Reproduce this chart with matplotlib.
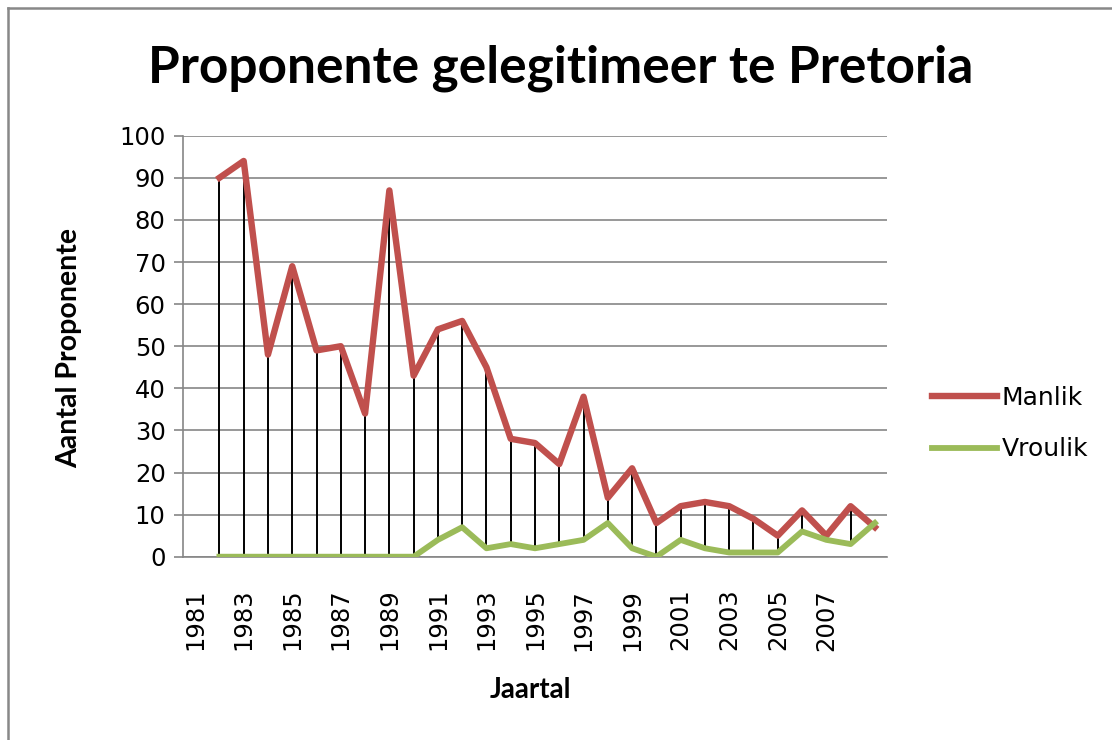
import numpy as np
import matplotlib.pyplot as plt
from matplotlib.lines import Line2D

years = list(range(1981, 2010))
manlik = [np.nan, 90, 94, 48, 69, 49, 50, 34, 87, 43,
          54, 56, 45, 28, 27, 22, 38, 14, 21, 8,
          12, 13, 12, 9, 5, 11, 5, 12, 7]
vroulik = [np.nan, 0, 0, 0, 0, 0, 0, 0, 0, 0,
           4, 7, 2, 3, 2, 3, 4, 8, 2, 0,
           4, 2, 1, 1, 1, 6, 4, 3, 8]
tick_years = years[0:-1:2]

red = '#C0504D'
green = '#9BBB59'
grey = '#868686'

W, H = 1112, 740
fig = plt.figure(figsize=(W / 100, H / 100), dpi=100)
ax = fig.add_axes([183 / W, 1 - 556.7 / H, 704 / W, 421 / H])

x = np.arange(len(years))
m = np.array(manlik, dtype=float)
v = np.array(vroulik, dtype=float)

#> high-low lines between the two series
ok = ~np.isnan(m)
ax.vlines(x[ok], np.minimum(m, v)[ok], np.maximum(m, v)[ok], colors='black', lw=1.4, zorder=2)

ax.plot(x, m, color=red, lw=4.6, label='Manlik', zorder=3)
ax.plot(x, v, color=green, lw=4.2, label='Vroulik', zorder=3)

ax.set_xlim(-0.5, len(years) - 0.5)
ax.set_ylim(0, 100)
ax.set_yticks(range(0, 101, 10))
ax.set_xticks([years.index(y) for y in tick_years])
ax.set_xticklabels([str(y) for y in tick_years], rotation=90, fontsize=17.5)
ax.tick_params(axis='x', length=0, pad=23)
ax.tick_params(axis='y', length=6.5, width=1.2, color=grey, pad=6, labelsize=17.5)

ax.grid(axis='y', color=grey, lw=1.2)
ax.set_axisbelow(True)
for s in ['top', 'right']:
    ax.spines[s].set_visible(False)
for s in ['left', 'bottom']:
    ax.spines[s].set_color(grey)
    ax.spines[s].set_linewidth(1.2)

fig.text(561 / W, 1 - 68 / H, 'Proponente gelegitimeer te Pretoria', family='Lato',
         weight='bold', fontsize=37, ha='center', va='center')
fig.text(69 / W, 1 - 348 / H, 'Aantal Proponente', family='Lato', weight='bold',
         fontsize=20.5, rotation=90, ha='center', va='center')
fig.text(530 / W, 1 - 690 / H, 'Jaartal', family='Lato', weight='bold',
         fontsize=20, ha='center', va='center')

fig.legend(loc='center left', bbox_to_anchor=(932 / W, 1 - 423.5 / H), frameon=False,
           fontsize=18, handlelength=2.6, handletextpad=0.2, labelspacing=1.1,
           borderpad=0, borderaxespad=0)

#> chart frame (only top and left edge visible)
fig.add_artist(Line2D([8 / W, 8 / W], [0, 1 - 8 / H], color='#888888', lw=1.8))
fig.add_artist(Line2D([8 / W, 1], [1 - 8 / H, 1 - 8 / H], color='#888888', lw=1.8))

fig.savefig('out.png', dpi=100)
